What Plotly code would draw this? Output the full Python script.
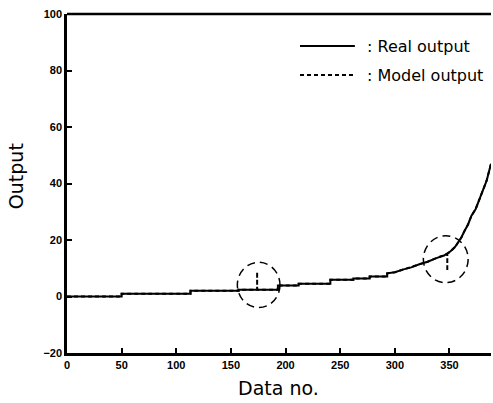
import plotly.graph_objects as go

# Real output (staircase growth)
real_x = [0, 50, 50, 113, 113, 157, 157, 193, 193, 212, 212, 241, 241, 262, 262,
          277, 277, 293, 293, 300, 308, 315, 323, 330, 338, 345, 351, 355, 358,
          361, 364, 367, 370, 374, 378, 381, 384, 386, 388]
real_y = [0, 0, 1.0, 1.0, 2.0, 2.0, 2.4, 2.4, 3.9, 3.9, 4.5, 4.5, 5.9, 5.9, 6.4,
          6.4, 7.1, 7.1, 8.2, 8.6, 9.6, 10.3, 11.5, 12.3, 13.6, 14.5, 16.0, 17.5,
          19.2, 21.0, 23.4, 25.5, 28.5, 31.0, 35.0, 38.0, 41.0, 44.0, 47.0]

# Model output: follows real output, with two deviations (circled)
model_x = [0, 50, 50, 113, 113, 157, 157, 174, 174, 174, 193, 193, 212, 212, 241,
           241, 262, 262, 277, 277, 293, 293, 300, 308, 315, 323, 330, 338, 345,
           348, 348, 348, 351, 355, 358, 361, 364, 367, 370, 374, 378, 381, 384,
           386, 388]
model_y = [0, 0, 1.0, 1.0, 2.0, 2.0, 2.4, 2.4, 8.8, 2.4, 2.4, 3.9, 3.9, 4.5, 4.5,
           5.9, 5.9, 6.4, 6.4, 7.1, 7.1, 8.2, 8.6, 9.6, 10.3, 11.5, 12.3, 13.6,
           14.5, 15.1, 9.0, 15.1, 16.0, 17.5, 19.2, 21.0, 23.4, 25.5, 28.5, 31.0,
           35.0, 38.0, 41.0, 44.0, 47.0]

# Highlight circles (center x, center y, radius x, radius y)
circles = [(175.4, 4.1, 19.5, 8.0), (346.6, 13.2, 20.5, 8.3)]

x_ticks = [0, 50, 100, 150, 200, 250, 300, 350]
y_ticks = [-20, 0, 20, 40, 60, 80, 100]

series_names = [": Real output", ": Model output"]

text_font = "DejaVu Sans, Verdana, sans-serif"
tick_font = dict(size=11, family="Liberation Sans, Arial", weight="bold", color="black")

fig = go.Figure()
fig.add_trace(go.Scatter(x=real_x, y=real_y, mode="lines", name=series_names[0],
                         line=dict(color="black", width=2), showlegend=False))
fig.add_trace(go.Scatter(x=model_x, y=model_y, mode="lines", name=series_names[1],
                         line=dict(color="black", width=2, dash="4px,3px"),
                         showlegend=False))

for cx, cy, rx, ry in circles:
    fig.add_shape(type="circle", xref="x", yref="y",
                  x0=cx - rx, x1=cx + rx, y0=cy - ry, y1=cy + ry,
                  line=dict(color="black", width=1.5, dash="8px,5px"))

# Hand-drawn style legend (line samples + text)
legend_rows = [(0.9056, "solid"), (0.820, "4px,3px")]
for (ly, dash), name in zip(legend_rows, series_names):
    fig.add_shape(type="line", xref="paper", yref="paper", x0=0.5495, x1=0.679,
                  y0=ly, y1=ly, line=dict(color="black", width=2, dash=dash))
    fig.add_annotation(xref="paper", yref="paper", x=0.703, y=ly, text=name,
                       showarrow=False, xanchor="left", yanchor="middle",
                       font=dict(size=16, family=text_font, color="black"))

# Axis titles as annotations (pixel-placed)
fig.add_annotation(xref="paper", yref="paper", x=0.498, y=-0.102, text="Data no.",
                   showarrow=False, xanchor="center", yanchor="middle",
                   font=dict(size=19, family=text_font, color="black"))
fig.add_annotation(xref="paper", yref="paper", x=-0.12, y=0.522, text="Output",
                   showarrow=False, xanchor="center", yanchor="middle", textangle=-90,
                   font=dict(size=19, family=text_font, color="black"))

fig.update_layout(
    width=493, height=403,
    margin=dict(l=67, r=2, t=14, b=50, autoexpand=False),
    paper_bgcolor="white", plot_bgcolor="white",
    font=dict(family=text_font, color="black"),
    showlegend=False,
    xaxis=dict(range=[0, 388], tickvals=x_ticks, ticks="inside", ticklen=5,
               tickwidth=1.5, tickcolor="black", showgrid=False, zeroline=False,
               showline=True, linecolor="black", linewidth=2.5, automargin=False,
               tickfont=tick_font),
    yaxis=dict(range=[-20, 100], tickvals=y_ticks, ticks="inside", ticklen=5,
               tickwidth=1.5, tickcolor="black", showgrid=False, zeroline=False,
               showline=True, linecolor="black", linewidth=2.5, automargin=False,
               tickfont=tick_font),
)
# Top frame line
fig.add_shape(type="line", xref="paper", yref="paper", x0=0, x1=1, y0=1, y1=1,
              line=dict(color="black", width=2.5))

fig.write_html("out.html", config={"displayModeBar": False},
               post_script="document.body.style.margin='0px';document.body.style.overflow='hidden';")
